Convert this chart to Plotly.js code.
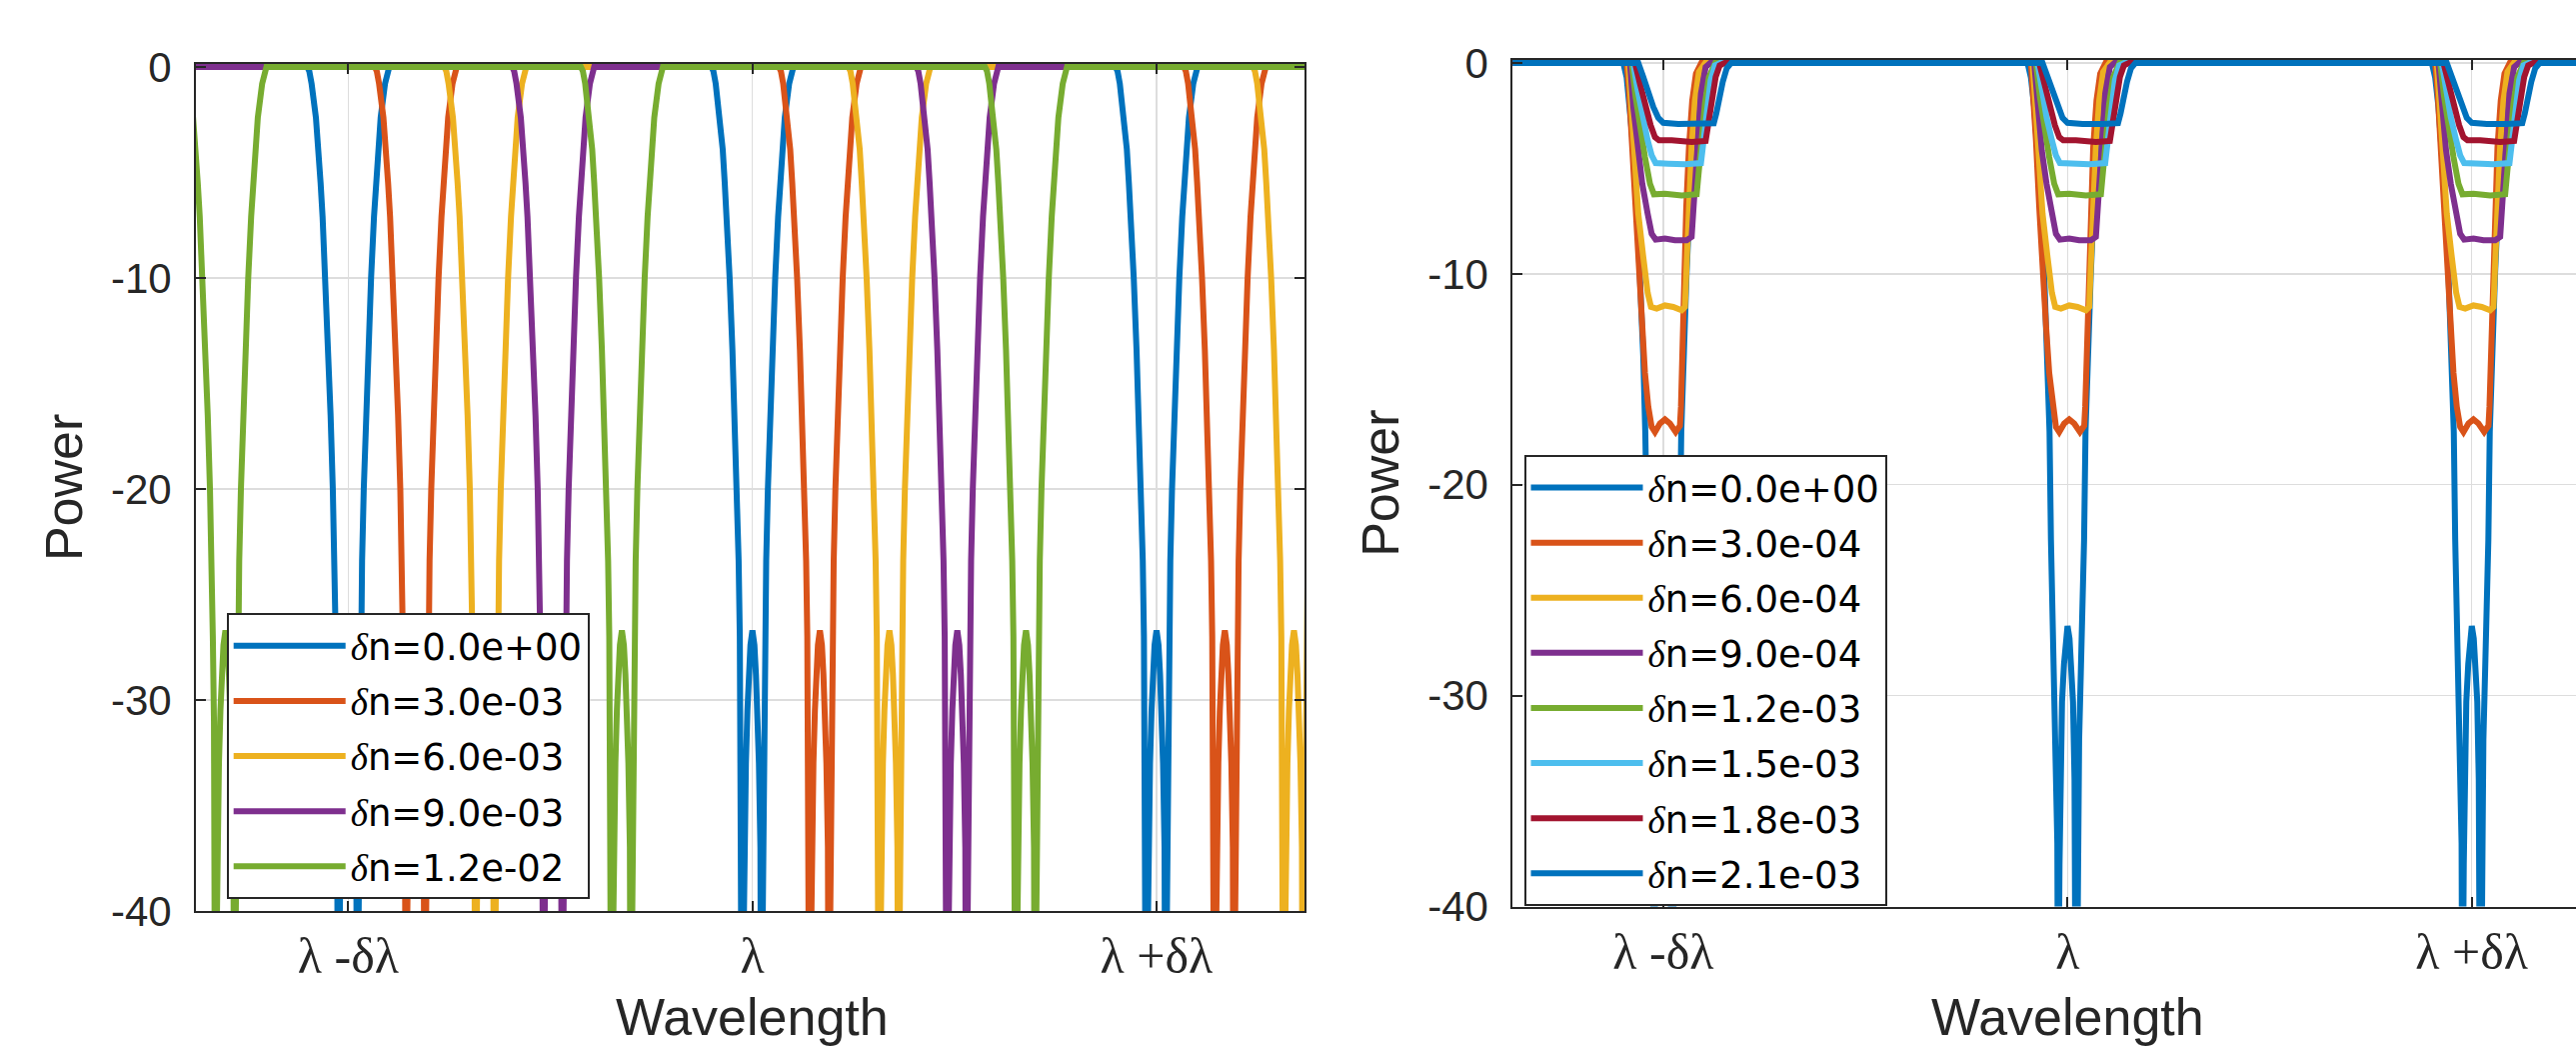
<!DOCTYPE html>
<html><head><meta charset="utf-8">
<script src="https://cdn.plot.ly/plotly-3.0.1.min.js"></script>
<style>html,body{margin:0;padding:0;background:#fff;overflow:hidden}#chart{width:2577px;height:1049px}</style>
</head><body><div id="chart"></div>
<script>
// ---------------- data ----------------
const xTickValues = [-1, 0, 1];
const xTickLabels = ['λ\u00A0-δλ', 'λ', 'λ\u00A0+δλ'];
const yTickValues = [-40, -30, -20, -10, 0];
const yTickLabels = ['-40', '-30', '-20', '-10', '0'];
const wavelengthSpan = [-1.5, 1.5];   // wavelength in units of δλ around λ

// Left panel: notch centres (units of δλ) for each δn
const leftLabels = ['δn=0.0e+00', 'δn=3.0e-03', 'δn=6.0e-03', 'δn=9.0e-03', 'δn=1.2e-02'];
const leftCenters_dn0   = [-1, 0, 1];
const leftCenters_dn3   = [-0.833, 0.167, 1.169];
const leftCenters_dn6   = [-0.661, 0.339, 1.34];
const leftCenters_dn9   = [-0.493, 0.507];
const leftCenters_dn12  = [-1.304, -0.323, 0.677];
// Left panel: notch shape (offset from centre in δλ, power in dB)
const leftNotchOffset = [-0.1014,-0.0965,-0.0908,-0.0801,-0.0735,-0.0685,-0.0636,-0.0564,-0.0495,-0.0438,-0.0383,-0.0341,-0.0312,-0.0284,-0.0267,-0.0247,-0.0235,-0.0223,-0.0198,-0.0161,-0.0124,-0.0087,-0.0049,0,0.0049,0.0087,0.0124,0.0161,0.0198,0.0223,0.0235,0.0247,0.0267,0.0284,0.0312,0.0341,0.0383,0.0438,0.0495,0.0564,0.0636,0.0685,0.0735,0.0801,0.0908,0.0965,0.1014];
const leftNotchPower  = [0,-0.2,-0.8,-2.4,-3.9,-5.5,-7.1,-10,-13.4,-16.5,-20,-23.4,-27,-31,-36,-42,-60,-42,-37,-33,-30.5,-28.8,-27.4,-26.7,-27.4,-28.8,-30.5,-33,-37,-42,-60,-42,-36,-31,-27,-23.4,-20,-16.5,-13.4,-10,-7.1,-5.5,-3.9,-2.4,-0.8,-0.2,0];

// Right panel
const rightLabels = ['δn=0.0e+00', 'δn=3.0e-04', 'δn=6.0e-04', 'δn=9.0e-04', 'δn=1.2e-03', 'δn=1.5e-03', 'δn=1.8e-03', 'δn=2.1e-03'];
const rightCenters = [-1, 0, 1];
const rightOffset_dn0  = [-0.0989,-0.0905,-0.0823,-0.0742,-0.0658,-0.0576,-0.0495,-0.0445,-0.041,-0.0371,-0.0329,-0.0287,-0.0272,-0.0252,-0.0242,-0.023,-0.0218,-0.0198,-0.0173,-0.0136,-0.0087,-0.0049,0,0.0049,0.0087,0.0136,0.0173,0.0198,0.0218,0.023,0.0242,0.0252,0.0272,0.0287,0.0329,0.0371,0.041,0.0445,0.0495,0.0576,0.0658,0.0742,0.0823,0.0905,0.0989];
const rightPower_dn0   = [0,-0.7,-2.1,-4.0,-6.5,-10,-13.9,-17.5,-22.6,-25.8,-28.9,-32.1,-34,-37,-43,-60,-43,-38,-34,-30.3,-28.5,-27.3,-26.7,-27.3,-28.5,-30.3,-34,-38,-43,-60,-43,-37,-34,-32.1,-28.9,-25.8,-22.6,-17.5,-13.9,-10,-6.5,-4.0,-2.1,-0.7,0];
const rightOffset_dn3  = [-0.0905,-0.0848,-0.0781,-0.07,-0.0618,-0.0534,-0.0453,-0.0371,-0.0287,-0.0205,-0.0082,0.0042,0.0166,0.0307,0.0413,0.0438,0.048,0.0519,0.0569,0.0636,0.0717,0.0809,0.094];
const rightPower_dn3   = [0,-1.3,-3.67,-6.83,-10,-12.4,-14.7,-16.3,-17.26,-17.5,-17.1,-16.9,-17.1,-17.5,-17.2,-16.3,-13.15,-10,-6.83,-3.99,-1.78,-0.51,0];
const rightOffset_dn6  = [-0.0865,-0.0799,-0.0717,-0.0618,-0.0495,-0.0386,-0.0304,-0.0163,0.0042,0.0247,0.0455,0.0537,0.0586,0.0636,0.0702,0.0784,0.0883,0.1039];
const rightPower_dn6   = [0,-1.78,-4.46,-7.15,-9.2,-10.9,-11.57,-11.65,-11.5,-11.57,-11.73,-11.57,-9.2,-6.52,-3.99,-1.78,-0.43,0];
const rightOffset_dn9  = [-0.0823,-0.0742,-0.0636,-0.0519,-0.0386,-0.0287,-0.0188,0.0042,0.0289,0.0579,0.0702,0.0767,0.0833,0.0932,0.1048,0.1162];
const rightPower_dn9   = [0,-2.09,-4.15,-5.73,-7.15,-8.1,-8.38,-8.33,-8.41,-8.41,-8.25,-6.04,-3.67,-1.46,-0.2,0];
const rightOffset_dn12 = [-0.0781,-0.0683,-0.0576,-0.0453,-0.0329,-0.023,0.0042,0.0455,0.0826,0.0883,0.095,0.1031,0.113,0.1286];
const rightPower_dn12  = [0,-1.62,-3.04,-4.46,-5.73,-6.23,-6.2,-6.28,-6.23,-5.25,-3.67,-1.93,-0.67,0];
const rightOffset_dn15 = [-0.0742,-0.0633,-0.0519,-0.0386,-0.0287,-0.0188,0.0124,0.0537,0.0932,0.0999,0.1073,0.1172,0.1278,0.141];
const rightPower_dn15  = [0,-1.3,-2.57,-3.67,-4.38,-4.75,-4.78,-4.81,-4.75,-3.67,-2.25,-0.83,-0.12,0];
const rightOffset_dn18 = [-0.07,-0.0576,-0.0453,-0.0312,-0.0205,-0.0106,0.0208,0.0702,0.1048,0.1113,0.1197,0.1296,0.1395,0.1521];
const rightPower_dn18  = [0,-0.99,-2.01,-2.96,-3.52,-3.67,-3.67,-3.75,-3.7,-2.88,-1.78,-0.67,-0.12,0];
const rightOffset_dn21 = [-0.0618,-0.0495,-0.0371,-0.0247,-0.0124,0,0.0371,0.0865,0.1249,0.1311,0.1385,0.1471,0.157,0.1681];
const rightPower_dn21  = [0,-0.67,-1.46,-2.09,-2.6,-2.84,-2.9,-2.9,-2.86,-2.4,-1.6,-0.9,-0.25,0];

// ---------------- styling ----------------
const matlabColors = ['#0072BD','#D95319','#EDB120','#7E2F8E','#77AC30','#4DBEEE','#A2142F','#0072BD'];
const axisColor = '#262626';
const gridColor = '#dddddd';
const sans = 'Liberation Sans, Arial, sans-serif';
const serif = 'Liberation Serif, Times New Roman, serif';
const legendSans = 'DejaVu Sans, Liberation Sans, sans-serif';

function buildSpectrum(centers, offsets, powers) {
  const x = [wavelengthSpan[0]], y = [0];
  centers.forEach(c => offsets.forEach((o, i) => { x.push(c + o); y.push(powers[i]); }));
  x.push(wavelengthSpan[1]); y.push(0);
  return {x, y};
}
function legendName(label) {
  return '<span style="font-family:' + serif + '"><i>' + label.charAt(0) + '</i></span>' + label.slice(1);
}

const leftCenterSets = [leftCenters_dn0, leftCenters_dn3, leftCenters_dn6, leftCenters_dn9, leftCenters_dn12];
const rightShapes = [
  [rightOffset_dn0, rightPower_dn0], [rightOffset_dn3, rightPower_dn3], [rightOffset_dn6, rightPower_dn6],
  [rightOffset_dn9, rightPower_dn9], [rightOffset_dn12, rightPower_dn12], [rightOffset_dn15, rightPower_dn15],
  [rightOffset_dn18, rightPower_dn18], [rightOffset_dn21, rightPower_dn21]
];

const traces = [];
leftCenterSets.forEach((centers, k) => {
  const s = buildSpectrum(centers, leftNotchOffset, leftNotchPower);
  traces.push({type: 'scatter', mode: 'lines', x: s.x, y: s.y, name: legendName(leftLabels[k]),
    legendgroup: 'L' + k, xaxis: 'x', yaxis: 'y', legend: 'legend',
    line: {color: matlabColors[k], width: 6}, hoverinfo: 'skip'});
});
rightShapes.forEach((shape, k) => {
  const s = buildSpectrum(rightCenters, shape[0], shape[1]);
  traces.push({type: 'scatter', mode: 'lines', x: s.x, y: s.y, name: legendName(rightLabels[k]),
    legendgroup: 'R' + k, xaxis: 'x2', yaxis: 'y2', legend: 'legend2',
    line: {color: matlabColors[k], width: 6}, hoverinfo: 'skip'});
});

function xAxis(domain, range, anchor) {
  return {domain, range, anchor, tickmode: 'array', tickvals: xTickValues, ticktext: xTickLabels,
    tickfont: {family: serif, size: 50, color: axisColor}, ticks: 'inside', ticklen: 10, tickwidth: 2,
    tickcolor: axisColor, showline: true, linecolor: axisColor, linewidth: 2, mirror: 'ticks',
    showgrid: true, gridcolor: gridColor, gridwidth: 1.5, zeroline: false, ticklabelstandoff: 0};
}
function yAxis(domain, anchor, mirror) {
  return {domain, range: [-40, 0.15], anchor, tickmode: 'array', tickvals: yTickValues, ticktext: yTickLabels,
    tickfont: {family: sans, size: 42, color: axisColor}, ticks: 'inside', ticklen: 10, tickwidth: 2,
    tickcolor: axisColor, showline: true, linecolor: axisColor, linewidth: 2, mirror: mirror,
    showgrid: true, gridcolor: gridColor, gridwidth: 1.5, zeroline: false, ticklabelstandoff: 14,
    title: {text: 'Power', font: {family: sans, size: 52, color: axisColor}, standoff: 12}};
}
const legendStyle = (x, y) => ({x, y, xanchor: 'left', yanchor: 'top', bgcolor: '#ffffff',
  bordercolor: axisColor, borderwidth: 2, font: {family: legendSans, size: 37, color: '#000000'},
  itemwidth: 112, traceorder: 'grouped', tracegroupgap: 4});
const xTitle = (xref) => ({text: 'Wavelength', xref, x: 0, yref: 'paper', y: 0.0605,
  xanchor: 'center', yanchor: 'top', showarrow: false,
  font: {family: sans, size: 52, color: axisColor}});

const layout = {
  width: 2577, height: 1049, margin: {l: 0, r: 0, t: 0, b: 0},
  paper_bgcolor: '#ffffff', plot_bgcolor: '#ffffff',
  font: {family: sans, color: axisColor},
  xaxis: xAxis([0.07606, 0.50659], [-1.377, 1.3673], 'y'),
  yaxis: yAxis([0.13155, 0.93922], 'x', 'ticks'),
  xaxis2: xAxis([0.58724, 1], [-1.3724, 1.2578], 'y2'),
  yaxis2: yAxis([0.13584, 0.94303], 'x2', false),
  legend: legendStyle(0.08797, 0.41535),
  legend2: legendStyle(0.59158, 0.56625),
  annotations: [xTitle('x'), xTitle('x2')],
  showlegend: true
};

Plotly.newPlot('chart', traces, layout, {staticPlot: true, displayModeBar: false});
</script>
</body></html>
